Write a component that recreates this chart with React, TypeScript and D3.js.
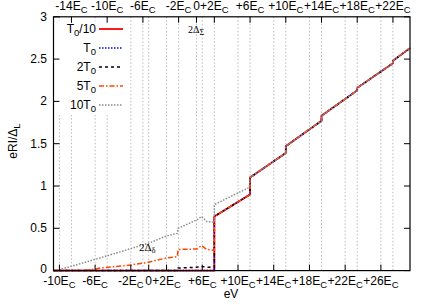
import React from "react";
import * as d3 from "d3";

// x values in units of E_C relative to the bottom-axis origin (2Δ_δ)
const bottomTicks = [-10, -6, -2, 0, 2, 6, 10, 14, 18, 22, 26];
const topTicks = [-14, -10, -6, -2, 0, 2, 6, 10, 14, 18, 22];
const topOffset = 5.35; // top-axis origin (2Δ_Σ) in bottom-axis units
const yTicks = [0, 0.5, 1, 1.5, 2, 2.5, 3];
const yTickLabels = ["0", "0.5", "1", "1.5", "2", "2.5", "3"];

const aboveX = [7.35, 11.35, 11.35, 15.35, 15.35, 19.35, 19.35, 23.35, 23.35, 27.35, 27.35, 29.26];
const aboveY = [0.64, 0.9, 1.1, 1.39, 1.47, 1.77, 1.83, 2.13, 2.16, 2.45, 2.48, 2.63];

const t10X = [-10.66, 7.35];
const t10Y = [0, 0];
const t1X = [-10.66, 7.35];
const t1Y = [0, 0];
const t2X = [-10.66, 3.2, 3.3, 5.4, 5.9, 6.5, 7.35];
const t2Y = [0, 0, 0.03, 0.04, 0.05, 0.04, 0.04];
const t5X = [-10.66, -7.5, -6.5, -5.45, -4, -2, 0, 2, 3.2, 3.3, 5.4, 5.9, 6.5, 7.35];
const t5Y = [0, 0, 0.01, 0.03, 0.045, 0.066, 0.1, 0.15, 0.165, 0.25, 0.255, 0.295, 0.25, 0.24];
const t100X = [-10.4, -7.7, -5.45, -2, 0.15, 2, 3.2, 3.3, 5.4, 5.9, 6.5, 7.35, 7.35, 11.27];
const t100Y = [0, 0.08, 0.15, 0.26, 0.33, 0.41, 0.44, 0.5, 0.6, 0.64, 0.58, 0.57, 0.78, 0.985];

const legendBase = ["T", "T", "2T", "5T", "10T"];
const legendAfter = ["/10", "", "", "", ""];

const W = 436, H = 305;
const L = 53.5, R = 410, T = 16.8, B = 270.6;

const zip = (xs: number[], ys: number[]) => xs.map((x, i) => [x, ys[i]] as [number, number]);

const series = [
  { pts: [...zip(t10X, t10Y), ...zip(aboveX, aboveY)], color: "#ff0000", dash: "", w: 1.8 },
  { pts: [...zip(t1X, t1Y), ...zip(aboveX, aboveY)], color: "#0000ff", dash: "1.5,1.5", w: 1.5 },
  { pts: [...zip(t2X, t2Y), ...zip(aboveX, aboveY)], color: "#000000", dash: "3,3", w: 1.5 },
  { pts: [...zip(t5X, t5Y), ...zip(aboveX, aboveY)], color: "#ff4500", dash: "5,2,1.5,2", w: 1.5 },
  { pts: [...zip(t100X, t100Y), ...zip(aboveX.slice(2), aboveY.slice(2))], color: "#8c8c8c", dash: "1.5,1.5", w: 1.5 },
];

const font = "'Liberation Sans', Arial, Helvetica, sans-serif";

function ecLabel(v: number) {
  if (v === 0) return { base: "0", sub: "" };
  return { base: (v > 0 ? "+" : "-") + Math.abs(v) + "E", sub: "C" };
}

export default function App() {
  const x = d3.scaleLinear().domain([-10.66, 29.26]).range([L, R]);
  const y = d3.scaleLinear().domain([0, 3]).range([B, T]);
  const line = d3
    .line<[number, number]>()
    .x((d) => x(d[0]))
    .y((d) => y(d[1]));

  const rows = [29, 48, 67, 86, 105];

  return (
    <svg width={W} height={H} style={{ position: "absolute", left: 0, top: 0, background: "#fff" }} fontFamily={font}>
      <rect x={0} y={0} width={W} height={H} fill="#fff" />
      {/* grid */}
      {bottomTicks.map((t) => (
        <line key={"gb" + t} x1={x(t)} x2={x(t)} y1={T} y2={B} stroke="#a8a8a8" strokeWidth={0.8} strokeDasharray="1.5,2" />
      ))}
      {topTicks.map((t) => (
        <line key={"gt" + t} x1={x(t + topOffset)} x2={x(t + topOffset)} y1={T} y2={B} stroke="#a8a8a8" strokeWidth={0.8} strokeDasharray="1.5,2" />
      ))}
      {/* legend background */}
      <rect x={L + 1} y={21} width={73} height={94} fill="#fff" />
      {/* curves */}
      {series.map((s, i) => (
        <path key={i} d={line(s.pts) || ""} fill="none" stroke={s.color} strokeWidth={s.w} strokeDasharray={s.dash || undefined} />
      ))}
      {/* border */}
      <rect x={L} y={T} width={R - L} height={B - T} fill="none" stroke="#000" strokeWidth={1.2} />
      {/* y ticks */}
      {yTicks.map((t, i) => (
        <g key={"y" + t}>
          <line x1={L} x2={L + 6} y1={y(t)} y2={y(t)} stroke="#000" />
          <line x1={R} x2={R - 6} y1={y(t)} y2={y(t)} stroke="#000" />
          <text x={47} y={y(t) + (t === 0 ? 2.5 : 4)} fontSize={12} textAnchor="end">{yTickLabels[i]}</text>
        </g>
      ))}
      {/* bottom ticks */}
      {bottomTicks.map((t) => {
        const lb = ecLabel(t);
        return (
          <g key={"b" + t}>
            <line x1={x(t)} x2={x(t)} y1={B} y2={B - 6} stroke="#000" />
            <text x={x(t)} y={285} fontSize={12} textAnchor="middle">
              <tspan>{lb.base}</tspan>
              {lb.sub && <tspan fontSize={9.5} dy={3}>{lb.sub}</tspan>}
            </text>
          </g>
        );
      })}
      {/* top ticks */}
      {topTicks.map((t) => {
        const lb = ecLabel(t);
        return (
          <g key={"t" + t}>
            <line x1={x(t + topOffset)} x2={x(t + topOffset)} y1={T} y2={T + 6} stroke="#000" />
            <text x={x(t + topOffset)} y={9.5} fontSize={12} textAnchor="middle">
              <tspan>{lb.base}</tspan>
              {lb.sub && <tspan fontSize={9.5} dy={3}>{lb.sub}</tspan>}
            </text>
          </g>
        );
      })}
      {/* axis titles */}
      <text x={231} y={298} fontSize={12} textAnchor="middle">eV</text>
      <text transform="translate(17,141) rotate(-90)" fontSize={12} textAnchor="middle">
        <tspan>eRI/Δ</tspan>
        <tspan fontSize={9.5} dy={3}>L</tspan>
      </text>
      {/* legend */}
      {series.map((s, i) => (
        <g key={"lg" + i}>
          <text x={96} y={rows[i] + 4} fontSize={12} textAnchor="end">
            <tspan>{legendBase[i]}</tspan>
            <tspan fontSize={9.5} dy={3}>0</tspan>
            {legendAfter[i] && <tspan dy={-3}>{legendAfter[i]}</tspan>}
          </text>
          <line x1={99} x2={123} y1={rows[i]} y2={rows[i]} stroke={s.color} strokeWidth={s.w} strokeDasharray={s.dash || undefined} />
        </g>
      ))}
      {/* annotations */}
      <text x={188} y={33} fontSize={10} fontFamily="'Liberation Serif', 'DejaVu Serif', serif">
        <tspan>2Δ</tspan>
        <tspan fontSize={8} dy={2}>Σ</tspan>
      </text>
      <text x={139} y={251} fontSize={11} fontFamily="'Liberation Serif', 'DejaVu Serif', serif">
        <tspan>2Δ</tspan>
        <tspan fontSize={8.5} dy={2}>δ</tspan>
      </text>
    </svg>
  );
}
